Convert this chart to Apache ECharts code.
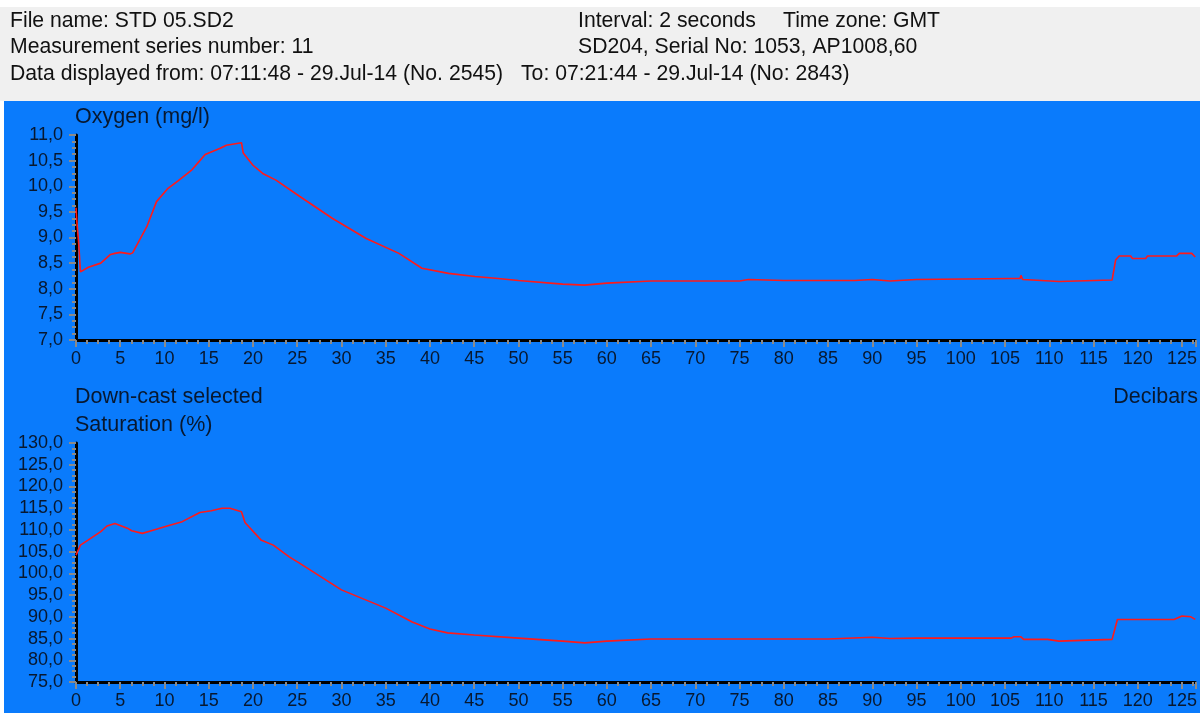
<!DOCTYPE html>
<html>
<head>
<meta charset="utf-8">
<script src="https://cdn.jsdelivr.net/npm/echarts@6/dist/echarts.min.js"></script>
<style>html,body{margin:0;padding:0;background:#fff}#c{width:1200px;height:713px}</style>
</head>
<body>
<div id="c"></div>
<script>
// Oxygen (mg/l) vs Decibars
var oxyDepth = [0, 0.1, 0.3, 0.5, 1.4, 2.8, 3.9, 4.4, 5.0, 6.1, 6.4, 8.0, 9.1, 10.4, 11.5, 13.1, 14.0, 14.6, 16.3, 17.0, 18.7, 18.9, 20.0, 21.1, 22.6, 25.3, 29.0, 32.8, 36.5, 39.1, 42.1, 45.1, 47.7, 50.0, 55.0, 57.5, 60.0, 65.0, 75.0, 76.0, 80.0, 88.0, 90.0, 92.0, 95.0, 105.7, 106.7, 106.8, 107.0, 108.1, 108.2, 111.1, 111.2, 117.1, 117.5, 117.9, 119.2, 119.4, 120.9, 121.1, 124.4, 124.7, 126.1, 126.5];
var oxyValue = [9.58, 9.30, 8.90, 8.33, 8.42, 8.50, 8.67, 8.69, 8.71, 8.68, 8.70, 9.21, 9.70, 9.96, 10.10, 10.32, 10.50, 10.62, 10.74, 10.80, 10.85, 10.65, 10.41, 10.25, 10.12, 9.80, 9.37, 8.98, 8.69, 8.40, 8.30, 8.24, 8.20, 8.16, 8.09, 8.07, 8.11, 8.15, 8.15, 8.18, 8.16, 8.16, 8.18, 8.15, 8.18, 8.20, 8.20, 8.26, 8.18, 8.17, 8.14, 8.14, 8.17, 8.17, 8.56, 8.64, 8.64, 8.59, 8.59, 8.64, 8.64, 8.69, 8.69, 8.62];

// Saturation (%) vs Decibars
var satDepth = [0, 0.5, 1.4, 2.8, 3.5, 4.4, 5.8, 6.3, 7.5, 8.8, 10.3, 12.0, 14.0, 15.3, 16.5, 17.4, 18.7, 19.1, 20.9, 22.3, 24.1, 25.3, 30.0, 35.0, 38.0, 40.0, 42.0, 45.0, 50.0, 55.0, 57.5, 60.0, 65.0, 85.0, 90.0, 92.0, 95.0, 105.7, 106.0, 106.8, 107.1, 109.8, 110.0, 111.1, 111.3, 117.1, 117.7, 124.1, 125.0, 126.0, 126.5];
var satValue = [104.2, 106.5, 107.7, 109.6, 110.9, 111.5, 110.4, 109.8, 109.2, 110.0, 110.9, 111.9, 114.0, 114.4, 115.0, 115.0, 114.2, 111.7, 107.7, 106.5, 103.8, 102.3, 96.2, 92.0, 88.8, 87.2, 86.3, 85.8, 85.1, 84.4, 84.0, 84.4, 84.9, 84.9, 85.3, 85.0, 85.1, 85.1, 85.4, 85.4, 84.8, 84.8, 84.4, 84.4, 84.8, 84.8, 89.4, 89.4, 90.2, 90.0, 89.4];

var xTickLabels = [0,5,10,15,20,25,30,35,40,45,50,55,60,65,70,75,80,85,90,95,100,105,110,115,120,125];

var headerLines = [
  {t: 'File name: STD 05.SD2', x: 10, y: 21},
  {t: 'Measurement series number: 11', x: 10, y: 47},
  {t: 'Data displayed from: 07:11:48 - 29.Jul-14 (No. 2545)', x: 10, y: 74},
  {t: 'Interval: 2 seconds', x: 578, y: 21},
  {t: 'Time zone: GMT', x: 783, y: 21},
  {t: 'SD204, Serial No: 1053, AP1008,60', x: 578, y: 47},
  {t: 'To: 07:21:44 - 29.Jul-14 (No: 2843)', x: 521, y: 74}
];

function pairs(xs, ys) { return xs.map(function (x, i) { return [x, ys[i]]; }); }

var FONT = '"Liberation Sans", Arial, sans-serif';
var LABEL_C = '#08182f';
var BLUE = '#0a7bfc';

function xAxisOf(gi) {
  return {
    type: 'value', gridIndex: gi, min: 0, max: 126.5, interval: 5,
    axisLine: {show: true, onZero: false, lineStyle: {color: '#000', width: 3}},
    axisTick: {show: true, length: 7, lineStyle: {color: '#8a8a8a', width: 2}},
    minorTick: {show: true, splitNumber: 4, length: 4, lineStyle: {color: '#8a8a8a', width: 2}},
    splitLine: {show: false},
    axisLabel: {
      color: LABEL_C, fontSize: 18, fontFamily: FONT, margin: 10, showMaxLabel: false,
      formatter: function (v) { return xTickLabels.indexOf(v) >= 0 ? String(v) : ''; }
    }
  };
}
function yAxisOf(gi, min, max, interval) {
  return {
    type: 'value', gridIndex: gi, min: min, max: max, interval: interval,
    axisLine: {show: true, onZero: false, lineStyle: {color: '#000', width: 3}},
    axisTick: {show: true, length: 7, lineStyle: {color: '#8a8a8a', width: 2}},
    minorTick: {show: true, splitNumber: 4, length: 4, lineStyle: {color: '#8a8a8a', width: 2}},
    splitLine: {show: false},
    axisLabel: {
      color: LABEL_C, fontSize: 18, fontFamily: FONT, margin: 13,
      formatter: function (v) { return v.toFixed(1).replace('.', ','); }
    }
  };
}

var graphics = [
  {type: 'rect', shape: {x: 0, y: 0, width: 1200, height: 101}, style: {fill: '#f0f0f0'}, silent: true},
  {type: 'rect', shape: {x: 0, y: 0, width: 1200, height: 7}, style: {fill: '#ffffff'}, silent: true},
  {type: 'rect', shape: {x: 0, y: 101, width: 4, height: 612}, style: {fill: '#ffffff'}, silent: true}
];
headerLines.forEach(function (h) {
  graphics.push({type: 'text', x: h.x, y: h.y, silent: true,
    style: {text: h.t, font: '21.2px ' + FONT, fill: '#111', verticalAlign: 'middle', textVerticalAlign: 'middle'}});
});
[
  {t: 'Oxygen (mg/l)', x: 75, y: 117, a: 'left'},
  {t: 'Down-cast selected', x: 75, y: 397, a: 'left'},
  {t: 'Saturation (%)', x: 75, y: 425, a: 'left'},
  {t: 'Decibars', x: 1198, y: 397, a: 'right'}
].forEach(function (h) {
  graphics.push({type: 'text', x: h.x, y: h.y, silent: true,
    style: {text: h.t, font: '21.5px ' + FONT, fill: LABEL_C, align: h.a, textAlign: h.a, verticalAlign: 'middle', textVerticalAlign: 'middle'}});
});

var chart = echarts.init(document.getElementById('c'), null, {renderer: 'canvas'});
chart.setOption({
  backgroundColor: BLUE,
  animation: false,
  graphic: graphics,
  grid: [
    {left: 76, right: 0, top: 135, height: 205},
    {left: 76, right: 0, top: 443, height: 239}
  ],
  xAxis: [xAxisOf(0), xAxisOf(1)],
  yAxis: [yAxisOf(0, 7, 11, 0.5), yAxisOf(1, 75, 130, 5)],
  series: [
    {type: 'line', xAxisIndex: 0, yAxisIndex: 0, data: pairs(oxyDepth, oxyValue), showSymbol: false, symbol: 'none',
      lineStyle: {color: '#ff1a1a', width: 1.6}, clip: true},
    {type: 'line', xAxisIndex: 1, yAxisIndex: 1, data: pairs(satDepth, satValue), showSymbol: false, symbol: 'none',
      lineStyle: {color: '#ff1a1a', width: 1.6}, clip: true}
  ]
});
</script>
</body>
</html>
